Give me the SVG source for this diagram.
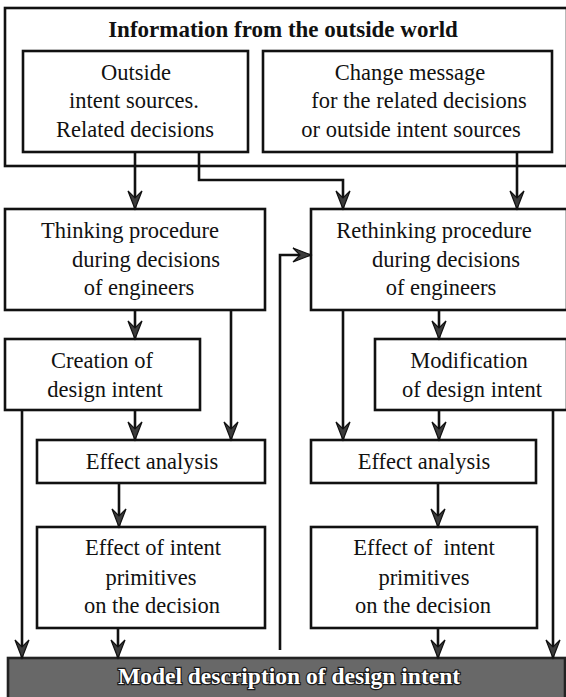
<svg xmlns="http://www.w3.org/2000/svg" width="566" height="697" viewBox="0 0 566 697" font-family="'Liberation Serif', 'Times New Roman', 'DejaVu Serif', serif">
  <defs>
    <marker id="arrow" markerUnits="userSpaceOnUse" viewBox="-20 -9 22 18" refX="0" refY="0" markerWidth="22" markerHeight="18" orient="auto">
      <path d="M0,0 L-18,-7 L-11,0 L-18,7 Z" fill="#3c3c3c" stroke="#111" stroke-width="1.2" stroke-linejoin="miter"/>
    </marker>
    <style>
      .box { fill: #ffffff; stroke: #111; stroke-width: 2.6; }
      .t { font-family: 'Liberation Serif', 'Times New Roman', 'DejaVu Serif', serif; font-size: 22.5px; fill: #111; text-anchor: middle; }
      .pre { white-space: pre; }
      .title { font-family: 'Liberation Serif', 'Times New Roman', 'DejaVu Serif', serif; font-size: 23px; font-weight: bold; fill: #111; text-anchor: middle; }
      .model { fill: #686868; stroke: #222; stroke-width: 2.6; }
      .mt { font-family: 'Liberation Serif', 'Times New Roman', 'DejaVu Serif', serif; font-size: 23.5px; font-weight: bold; fill: #ffffff; stroke: #1a1a1a; stroke-width: 2.4; paint-order: stroke; text-anchor: middle; }
      .ca { fill: none; stroke: #111; stroke-width: 2.6; marker-end: url(#arrow); }
    </style>
  </defs>

  <rect width="566" height="697" fill="#ffffff"/>

  <!-- outside world frame -->
  <g id="outside-world">
    <rect class="box" x="5" y="8" width="562" height="158"/>
    <text class="title" x="283" y="37">Information from the outside world</text>
  </g>

  <g id="intent-sources">
    <rect class="box" x="23" y="51" width="225" height="101"/>
    <text class="t" x="136" y="80">Outside</text>
    <text class="t" x="134" y="108">intent sources.</text>
    <text class="t" x="135" y="137">Related decisions</text>
  </g>

  <g id="change-message">
    <rect class="box" x="263" y="51" width="289" height="101"/>
    <text class="t" x="410" y="80">Change message</text>
    <text class="t" x="419" y="108">for the related decisions</text>
    <text class="t" x="411" y="137">or outside intent sources</text>
  </g>

  <!-- left column -->
  <g id="thinking">
    <rect class="box" x="5" y="209" width="260" height="101"/>
    <text class="t" x="130" y="238">Thinking procedure</text>
    <text class="t" x="146" y="267">during decisions</text>
    <text class="t" x="139" y="295">of engineers</text>
  </g>

  <g id="creation">
    <rect class="box" x="5" y="339" width="195" height="71"/>
    <text class="t" x="102" y="368">Creation of</text>
    <text class="t" x="105" y="397">design intent</text>
  </g>

  <g id="effect-analysis-left">
    <rect class="box" x="37" y="440" width="228" height="43"/>
    <text class="t" x="152" y="469">Effect analysis</text>
  </g>

  <g id="effect-primitives-left">
    <rect class="box" x="37" y="527" width="228" height="101"/>
    <text class="t" x="153" y="555">Effect of intent</text>
    <text class="t" x="151" y="585">primitives</text>
    <text class="t" x="152" y="613">on the decision</text>
  </g>

  <!-- right column -->
  <g id="rethinking">
    <rect class="box" x="311" y="209" width="256" height="101"/>
    <text class="t" x="434" y="238">Rethinking procedure</text>
    <text class="t" x="446" y="267">during decisions</text>
    <text class="t" x="441" y="295">of engineers</text>
  </g>

  <g id="modification">
    <rect class="box" x="375" y="339" width="192" height="71"/>
    <text class="t" x="469" y="368">Modification</text>
    <text class="t" x="472" y="397">of design intent</text>
  </g>

  <g id="effect-analysis-right">
    <rect class="box" x="311" y="440" width="225" height="43"/>
    <text class="t" x="424" y="469">Effect analysis</text>
  </g>

  <g id="effect-primitives-right">
    <rect class="box" x="311" y="527" width="226" height="101"/>
    <text class="t pre" x="424" y="555">Effect of  intent</text>
    <text class="t" x="424" y="585">primitives</text>
    <text class="t" x="423" y="613">on the decision</text>
  </g>

  <!-- result bar -->
  <g id="model-description">
    <rect class="model" x="8" y="658" width="557" height="42"/>
    <text class="mt" x="289" y="684">Model description of design intent</text>
  </g>

  <g id="connectors">
    <!-- from outside world -->
    <path class="ca" d="M135,152 V209"/>
    <path class="ca" d="M199,152 V180 H343 V209"/>
    <path class="ca" d="M517,152 V209"/>
    <!-- left column -->
    <path class="ca" d="M135,310 V339"/>
    <path class="ca" d="M231,310 V440"/>
    <path class="ca" d="M135,410 V440"/>
    <path class="ca" d="M22,410 V658"/>
    <path class="ca" d="M119,483 V527"/>
    <path class="ca" d="M118,628 V658"/>
    <!-- feedback into rethinking -->
    <path class="ca" d="M280,650 V255 H311"/>
    <!-- right column -->
    <path class="ca" d="M439,310 V339"/>
    <path class="ca" d="M343,310 V440"/>
    <path class="ca" d="M439,410 V440"/>
    <path class="ca" d="M553,410 V658"/>
    <path class="ca" d="M438,483 V527"/>
    <path class="ca" d="M438,628 V658"/>
  </g>
</svg>
